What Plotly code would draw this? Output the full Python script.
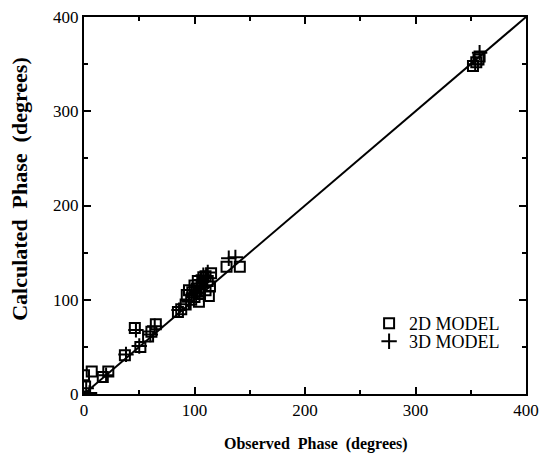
import plotly.graph_objects as go

# 2D model: observed vs calculated phase (degrees)
obs_2d = [1, 0, 7, 17, 22, 37, 51, 46, 58, 61, 65, 85, 88, 92, 93, 95, 97, 98, 100, 100,
          102, 103, 104, 105, 107, 108, 110, 110, 112, 113, 114, 115, 129, 141, 352, 355, 357, 358]
calc_2d = [8, 20, 24, 18, 24, 41, 50, 70, 61, 66, 74, 87, 90, 95, 105, 110, 100, 108, 103, 115,
           112, 120, 98, 106, 118, 124, 110, 125, 120, 104, 114, 128, 135, 135, 348, 352, 355, 358]

# 3D model
obs_3d = [5, 2, 20, 38, 50, 47, 60, 64, 86, 95, 99, 102, 105, 106, 108, 110, 112, 131, 137, 358, 354]
calc_3d = [1, 6, 20, 42, 51, 68, 63, 72, 89, 98, 107, 113, 117, 121, 126, 123, 129, 144, 145, 362, 350]

line_x = [0, 400]
line_y = [0, 400]

x_ticks = [0, 100, 200, 300, 400]
y_ticks = [0, 100, 200, 300, 400]

serif = "Liberation Serif, Times New Roman, serif"

fig = go.Figure()
fig.add_trace(go.Scatter(x=line_x, y=line_y, mode="lines",
                         line=dict(color="black", width=2), showlegend=False, hoverinfo="skip"))
fig.add_trace(go.Scatter(x=obs_2d, y=calc_2d, mode="markers", name="2D MODEL", legend="legend",
                         marker=dict(symbol="square-open", size=10, color="black",
                                     line=dict(width=2, color="black"))))
fig.add_trace(go.Scatter(x=obs_3d, y=calc_3d, mode="markers", name="3D MODEL", legend="legend2",
                         marker=dict(symbol="cross-thin-open", size=11, color="black",
                                     line=dict(width=2, color="black"))))

axis_common = dict(
    showgrid=False, zeroline=False, showline=True, linecolor="black", linewidth=2,
    mirror="allticks", ticks="inside", ticklen=7, tickwidth=2, tickcolor="black",
    minor=dict(dtick=50, ticks="inside", ticklen=4, tickwidth=2, tickcolor="black"),
    tickfont=dict(family=serif, size=17, color="black"),
    range=[0, 400], automargin=False, ticklabeloverflow="allow",
)

leg_common = dict(xanchor="left", yanchor="top", bgcolor="rgba(0,0,0,0)",
                  font=dict(family=serif, size=18, color="black"), itemwidth=30)

fig.update_layout(
    width=541, height=453,
    margin=dict(l=84, r=15, t=17, b=59),
    paper_bgcolor="white", plot_bgcolor="white",
    xaxis=dict(**axis_common, tickvals=x_ticks),
    yaxis=dict(**axis_common, tickvals=y_ticks),
    legend=dict(**leg_common, x=0.645, y=0.236),
    legend2=dict(**leg_common, x=0.645, y=0.188),
    showlegend=True,
    annotations=[
        dict(text="<b>Observed  Phase  (degrees)</b>", xref="paper", yref="paper",
             x=0.525, y=-0.133, xanchor="center", yanchor="middle", showarrow=False,
             font=dict(family=serif, size=16, color="black")),
        dict(text="<b>Calculated  Phase  (degrees)</b>", xref="paper", yref="paper",
             x=-0.145, y=0.544, xanchor="center", yanchor="middle", showarrow=False,
             textangle=-90, font=dict(family=serif, size=22, color="black")),
    ],
)

fig.write_html(
    "out.html",
    config={"displayModeBar": False},
    post_script=("document.body.style.margin='0';"
                 "document.body.style.overflow='hidden';"
                 "document.documentElement.style.overflow='hidden';"),
)
